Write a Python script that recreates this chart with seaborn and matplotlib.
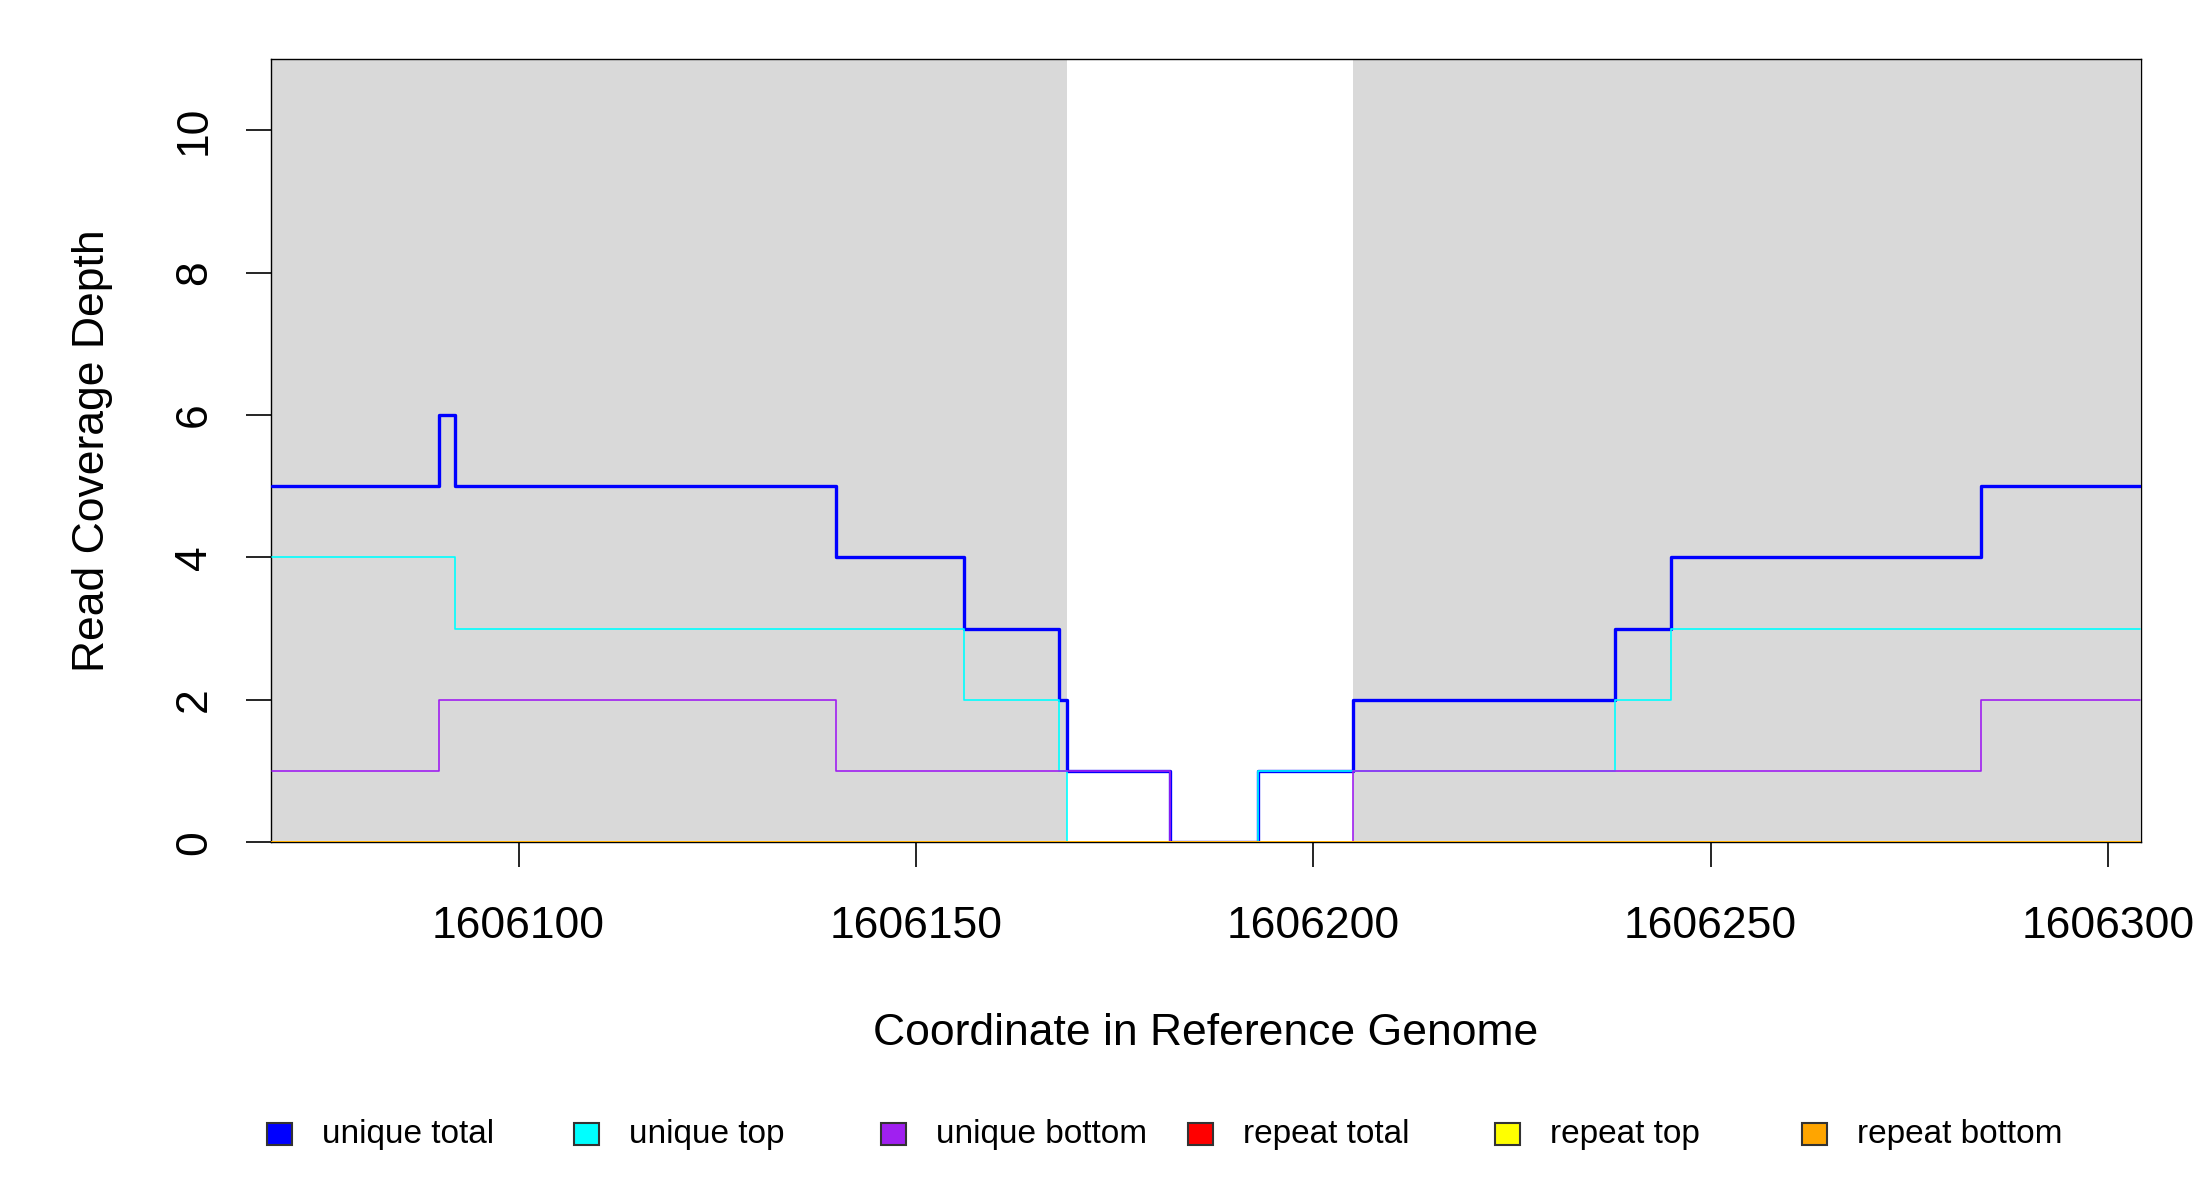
import matplotlib
matplotlib.use('Agg')
import matplotlib.pyplot as plt
from matplotlib.patches import Rectangle
import pandas as pd
import seaborn as sns

# step breakpoints (value holds until the next x)
unique_total_x = [1606069, 1606090, 1606092, 1606140, 1606156, 1606168, 1606169, 1606182, 1606193, 1606205, 1606238, 1606245, 1606284, 1606304]
unique_total_y = [5, 6, 5, 4, 3, 2, 1, 0, 1, 2, 3, 4, 5, 5]
unique_top_x = [1606069, 1606092, 1606156, 1606168, 1606169, 1606193, 1606238, 1606245, 1606304]
unique_top_y = [4, 3, 2, 1, 0, 1, 2, 3, 3]
unique_bottom_x = [1606069, 1606090, 1606140, 1606182, 1606205, 1606284, 1606304]
unique_bottom_y = [1, 2, 1, 0, 1, 2, 2]
repeat_x = [1606069, 1606304]
repeat_total_y = [0, 0]
repeat_top_y = [0, 0]
repeat_bottom_y = [0, 0]

# shaded (gray) regions
shade_starts = [1606069, 1606205]
shade_ends = [1606169, 1606304]

series_names = ["unique total", "unique top", "unique bottom", "repeat total", "repeat top", "repeat bottom"]
series_colors = ["#0000FF", "#00FFFF", "#A020F0", "#FF0000", "#FFFF00", "#FFA500"]
series_x = [unique_total_x, unique_top_x, unique_bottom_x, repeat_x, repeat_x, repeat_x]
series_y = [unique_total_y, unique_top_y, unique_bottom_y, repeat_total_y, repeat_top_y, repeat_bottom_y]
series_lw = [2.4, 1.2, 1.2, 1.2, 1.2, 1.2]

sns.set_style("white")
plt.rcParams['font.family'] = ['Liberation Sans', 'DejaVu Sans']
plt.rcParams['text.color'] = 'black'
plt.rcParams['axes.labelcolor'] = 'black'
plt.rcParams['xtick.color'] = 'black'
plt.rcParams['ytick.color'] = 'black'

fig = plt.figure(figsize=(22, 12), dpi=100)
ax = fig.add_axes([0.123, 0.298, 0.850, 0.653])

for s, e in zip(shade_starts, shade_ends):
    ax.axvspan(s, e, color="#D9D9D9", lw=0, zorder=0)

for name, c, xs, ys, lw in zip(series_names, series_colors, series_x, series_y, series_lw):
    df = pd.DataFrame({"x": xs, "y": ys})
    sns.lineplot(data=df, x="x", y="y", color=c, lw=lw, drawstyle="steps-post",
                 estimator=None, sort=False, ax=ax, zorder=3)

ax.set_xlim(1606068.8, 1606304.1)
ax.set_ylim(0, 11)
ax.set_xticks([1606100, 1606150, 1606200, 1606250, 1606300])
ax.set_xticklabels(["1606100", "1606150", "1606200", "1606250", "1606300"])
ax.set_yticks([0, 2, 4, 6, 8, 10])
ax.set_yticklabels(["0", "2", "4", "6", "8", "10"], rotation=90, va="center")
ax.tick_params(axis="both", direction="out", length=18, width=1.2, labelsize=32,
               color="black", labelcolor="black", left=True, bottom=True)
ax.tick_params(axis="x", pad=28)
ax.tick_params(axis="y", pad=22)
ax.set_xlabel("Coordinate in Reference Genome", fontsize=32, labelpad=47, color="black")
ax.set_ylabel("Read Coverage Depth", fontsize=32, labelpad=44, color="black")
for sp in ax.spines.values():
    sp.set_visible(True)
    sp.set_color("black")
    sp.set_linewidth(1.0)
ax.grid(False)

# legend row, evenly spaced like base R horizontal legend
x0 = 267 / 2200
step = 307 / 2200
ly = 1 - 1134 / 1200
bw, bh = 25 / 2200, 22 / 1200
for i, (name, c) in enumerate(zip(series_names, series_colors)):
    bx = x0 + i * step
    fig.add_artist(Rectangle((bx, ly - bh / 2), bw, bh, transform=fig.transFigure,
                             facecolor=c, edgecolor="#333333", lw=1.5))
    fig.text(bx + 55 / 2200, ly, name, fontsize=24, va="center", ha="left", color="black")

fig.savefig("out.png", dpi=100)
